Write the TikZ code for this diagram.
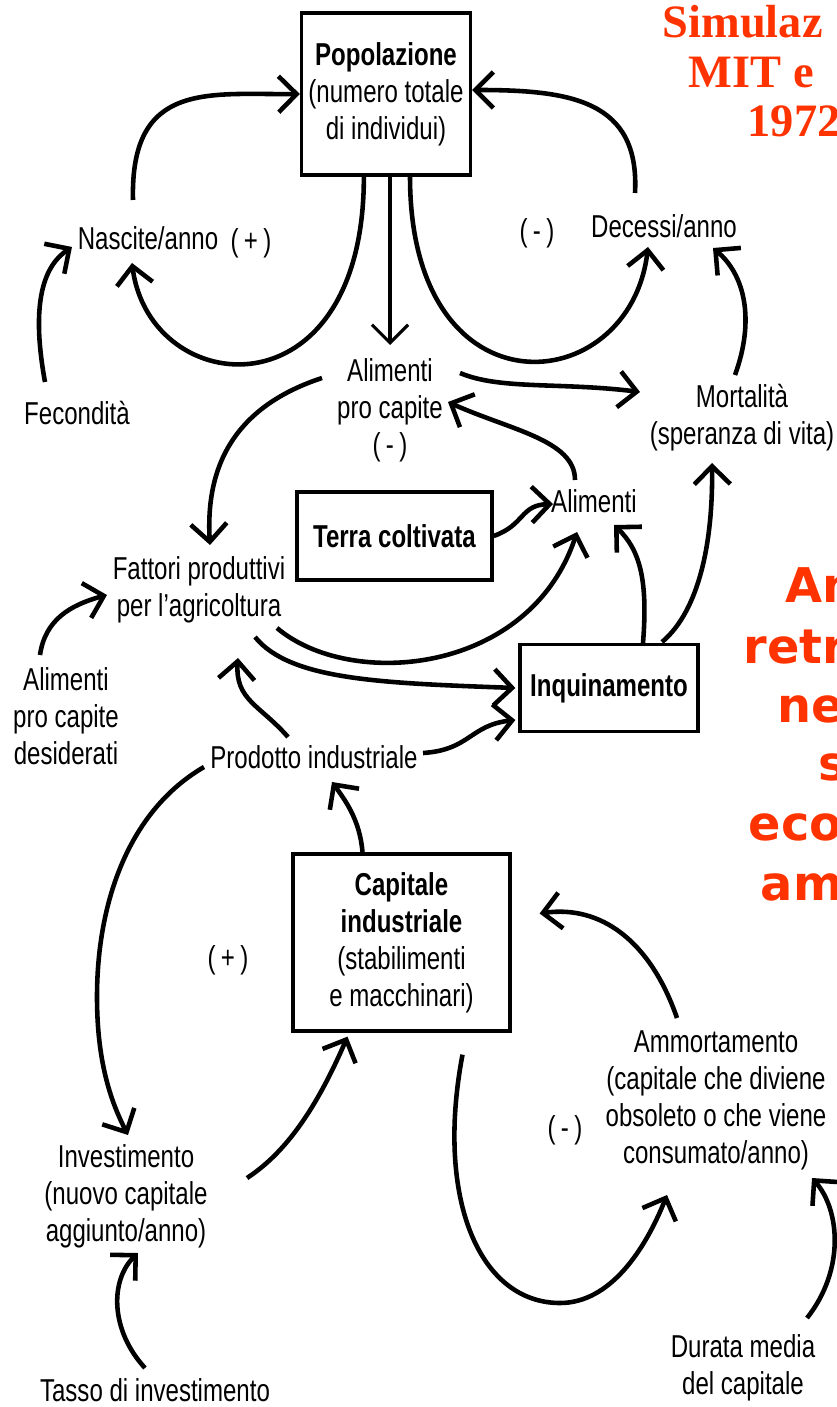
\documentclass[tikz,border=0pt]{standalone}
\usepackage{fontspec}
\setmainfont{Liberation Sans}[FakeStretch=0.76]
\newfontfamily\titlefont{Liberation Serif}
\newfontfamily\notefont{DejaVu Sans}
\usetikzlibrary{arrows.meta,calc}
\definecolor{hilite}{HTML}{FF3300}
\tikzset{
	lbl/.style={font=\fontsize{9}{10.5}\selectfont, align=center, inner sep=2pt},
	stock/.style={lbl, draw, line width=0.9pt},
	arr/.style={-{Straight Barb[length=1.8mm,width=3.6mm]}, line width=1.3pt},
	title/.style={anchor=base west, inner sep=0, text=hilite, font=\titlefont\bfseries\fontsize{13.2}{15}\selectfont},
	note/.style={anchor=base west, inner sep=0, text=hilite, font=\notefont\bfseries\fontsize{13.6}{16}\selectfont}
}

\begin{document}
\begin{tikzpicture}[x=0.01cm,y=-0.01cm]
			%%%%% START %%%%%
			\useasboundingbox (0,0) rectangle (836,1407);
			
			\node[stock, minimum width=1.62cm, minimum height=1.62cm] (pop) at (386,94) {\textbf{Popolazione}\\(numero totale\\di individui)};
			\node[lbl] (nasc) at (148,238) {Nascite/anno};
			\node[lbl] (nascsign) at (251,243) {(\,+\,)};
			\node[lbl] (fec) at (77,413) {Fecondità};
			\node[lbl] (dec) at (664,226) {Decessi/anno};
			\node[lbl] (decsign) at (537,233) {(\,-\,)};
			\node[lbl] (alpc) at (390,410) {Alimenti\\pro capite\\(\,-\,)};
			\node[lbl] (mort) at (742,418) {Mortalità\\(speranza di vita)};
			\node[lbl] (alim) at (594,501) {Alimenti};
			\node[stock, minimum width=1.95cm, minimum height=0.88cm] (terra) at (394.5,536) {\textbf{Terra coltivata}};
			\node[lbl] (fatt) at (199,590) {Fattori produttivi\\per l'agricoltura};
			\node[lbl] (alpcd) at (66,716) {Alimenti\\pro capite\\desiderati};
			\node[lbl] (prod) at (314,757) {Prodotto industriale};
			\node[stock, minimum width=1.78cm, minimum height=0.87cm] (inq) at (609,688) {\textbf{Inquinamento}};
			\node[stock, minimum width=2.17cm, minimum height=1.77cm] (cap) at (401.5,942.5) {\textbf{Capitale}\\\textbf{industriale}\\(stabilimenti\\e macchinari)};
			\node[lbl] (capsign) at (228,960) {(\,+\,)};
			\node[lbl] (amm) at (716,1100) {Ammortamento\\(capitale che diviene\\obsoleto o che viene\\consumato/anno)};
			\node[lbl] (ammsign) at (565,1130) {(\,-\,)};
			\node[lbl] (inv) at (126,1196) {Investimento\\(nuovo capitale\\aggiunto/anno)};
			\node[lbl] (tasso) at (155,1390) {Tasso di investimento};
			\node[lbl] (durata) at (743,1368) {Durata media\\del capitale};
			
			% population loops
			\draw[arr] ($(nasc)+(-15,-38)$) .. controls (130,80) and (210,95) .. (pop.west);
			\draw[arr] (pop.-105) .. controls (364,420) and (150,400) .. ($(nasc)+(-16,25)$);
			\draw[arr, line width=0.9pt] ($(pop.south)+(4,0)$) -- ($(alpc)+(0,-65)$);
			\draw[arr] ($(pop.south)+(24,0)$) .. controls (410,420) and (630,400) .. ($(dec)+(-16,21)$);
			\draw[arr] ($(dec)+(-29,-33)$) .. controls (640,100) and (570,90) .. ($(pop.east)+(0,-4)$);
			\draw[arr] ($(fec)+(-32,-31)$) .. controls (30,300) and (45,265) .. ($(nasc)+(-76,9)$);
			\draw[arr] ($(mort)+(-7,-43)$) .. controls (755,320) and (745,275) .. ($(dec)+(49,22)$);
			
			% food
			\draw[arr] ($(alpc)+(70,-37)$) .. controls (500,390) and (560,382) .. ($(mort)+(-102,-26)$);
			\draw[arr] ($(alim)+(-19,-21)$) .. controls (575,440) and (510,430) .. ($(alpc)+(58,-8)$);
			\draw[arr] ($(alpc)+(-68,-32)$) .. controls (240,405) and (205,460) .. ($(fatt)+(11,-45)$);
			\draw[arr] (terra.east) .. controls (525,525) and (520,505) .. ($(alim)+(-41,3)$);
			\draw[arr] ($(fatt)+(78,38)$) .. controls (350,690) and (530,675) .. ($(alim)+(-17,31)$);
			\draw[arr] ($(alpcd)+(-26,-61)$) .. controls (45,620) and (70,605) .. ($(fatt)+(-92,5)$);
			
			% pollution
			\draw[arr] ($(fatt)+(56,47)$) .. controls (290,680) and (380,683) .. ($(inq.west)+(-3,0)$);
			\draw[arr] ($(prod)+(-26,-20)$) .. controls (260,705) and (235,700) .. ($(fatt)+(39,68)$);
			\draw[arr] ($(prod)+(109,-4)$) .. controls (470,750) and (470,725) .. ($(inq.west)+(-3,32)$);
			\draw[arr] ($(inq)+(34,-45)$) .. controls (648,580) and (640,550) .. ($(alim)+(20,24)$);
			\draw[arr] ($(inq)+(53,-46)$) .. controls (700,610) and (713,540) .. ($(mort)+(-30,45)$);
			
			% capital loops
			\draw[arr] ($(prod)+(-110,10)$) .. controls (130,810) and (97,900) .. (97,997) .. controls (97,1060) and (110,1100) .. ($(inv)+(2,-61)$);
			\draw[arr] ($(inv)+(121,-18)$) .. controls (290,1150) and (320,1100) .. ($(cap.south)+(-54,4)$);
			\draw[arr] ($(cap.north)+(-39,0)$) .. controls (360,820) and (345,800) .. ($(prod)+(18,25)$);
			\draw[arr] ($(amm)+(-39,-82)$) .. controls (650,940) and (600,905) .. ($(cap.east)+(28,-29)$);
			\draw[arr] ($(cap.south)+(61,22)$) .. controls (435,1200) and (480,1303) .. (560,1303) .. controls (610,1303) and (645,1250) .. ($(amm)+(-49,95)$);
			\draw[arr] ($(durata)+(64,-50)$) .. controls (845,1270) and (840,1210) .. ($(amm)+(96,78)$);
			\draw[arr] ($(tasso)+(-10,-22)$) .. controls (110,1330) and (110,1280) .. ($(inv)+(12,57)$);
			
			% headings
			\node[title] (t1) at (662,38) {Simulaz};
			\node[title] (t2) at (688,88) {MIT e};
			\node[title] (t3) at (747,137) {1972};
			\node[note] (n1) at (785,603) {An};
			\node[note] (n2) at (743,663) {retr};
			\node[note] (n3) at (777,722) {ne};
			\node[note] (n4) at (818,780) {s};
			\node[note] (n5) at (748,840) {eco};
			\node[note] (n6) at (760,900) {am};
			
			%%%%% END %%%%%
\end{tikzpicture}
\end{document}
